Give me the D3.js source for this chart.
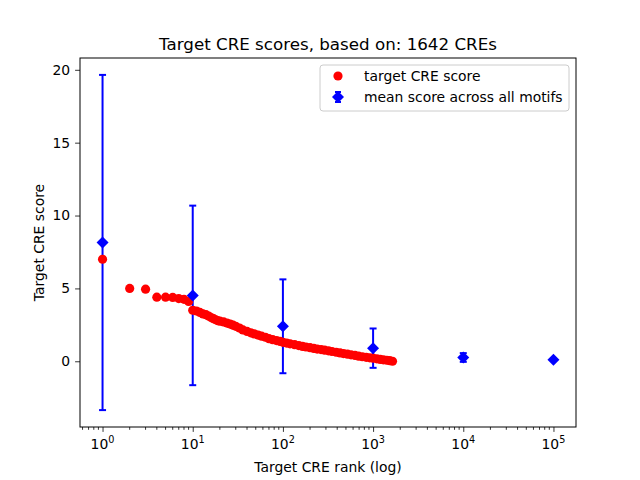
<!DOCTYPE html>
<html>
<head>
<meta charset="utf-8">
<script src="https://cdn.jsdelivr.net/npm/d3@7"></script>
<style>
  body { margin: 0; background: #fff; }
  text { font-family: "DejaVu Sans", sans-serif; }
</style>
</head>
<body>
<div id="viz"></div>
<script>
// target CRE score per rank
const ranks = [1, 2, 3, 4, 5, 6, 7, 8, 9, 10, 11, 12, 13, 14, 15, 16, 17, 18, 19, 20,
  22, 24, 26, 28, 30, 33, 36, 40, 44, 48, 53, 58, 64, 70, 77, 85, 93, 100, 110, 120,
  135, 150, 165, 180, 200, 220, 240, 265, 290, 320, 350, 390, 430, 470, 520, 570, 630,
  690, 760, 840, 920, 1000, 1100, 1200, 1300, 1420, 1530, 1642];
const scores = [7.0, 5.0, 4.95, 4.4, 4.4, 4.38, 4.3, 4.25, 4.1, 3.5, 3.45, 3.35, 3.25, 3.2, 3.1, 3.0, 2.92, 2.85, 2.78, 2.75,
  2.7, 2.62, 2.55, 2.48, 2.4, 2.28, 2.15, 2.05, 1.95, 1.88, 1.8, 1.72, 1.65, 1.55, 1.48, 1.42, 1.36, 1.3, 1.25, 1.2,
  1.14, 1.08, 1.02, 0.98, 0.93, 0.88, 0.84, 0.8, 0.76, 0.72, 0.67, 0.62, 0.57, 0.53, 0.49, 0.44, 0.4,
  0.35, 0.31, 0.27, 0.24, 0.21, 0.17, 0.13, 0.1, 0.07, 0.04, 0.0];

// mean score across all motifs with error
const meanRanks = [1, 10, 100, 1000, 10000, 100000];
const meanScores = [8.15, 4.52, 2.4, 0.9, 0.26, 0.1];
const meanErrors = [11.5, 6.16, 3.22, 1.35, 0.3, 0.05];

const yTicks = [0, 5, 10, 15, 20];
const xTicks = [1, 10, 100, 1000, 10000, 100000];

const width = 640, height = 480;
const margin = {left: 80, right: 64, top: 58, bottom: 53};

const svg = d3.select('#viz').append('svg')
  .attr('width', width)
  .attr('height', height);

const x = d3.scaleLog()
  .domain([Math.pow(10, -0.25), Math.pow(10, 5.25)])
  .range([margin.left, width - margin.right]);

const y = d3.scaleLinear()
  .domain([-4.51, 20.81])
  .range([height - margin.bottom, margin.top]);

// error bars
const eb = svg.append('g').attr('stroke', '#0000ff').attr('stroke-width', 2);
meanRanks.forEach((r, i) => {
  const cx = x(r);
  const lo = y(meanScores[i] - meanErrors[i]);
  const hi = y(meanScores[i] + meanErrors[i]);
  eb.append('line').attr('x1', cx).attr('x2', cx).attr('y1', lo).attr('y2', hi);
  eb.append('line').attr('x1', cx - 3.5).attr('x2', cx + 3.5).attr('y1', lo).attr('y2', lo);
  eb.append('line').attr('x1', cx - 3.5).attr('x2', cx + 3.5).attr('y1', hi).attr('y2', hi);
});

// red points
svg.append('g')
  .selectAll('circle')
  .data(ranks.map((r, i) => [r, scores[i]]))
  .enter()
  .append('circle')
  .attr('cx', d => x(d[0]))
  .attr('cy', d => y(d[1]))
  .attr('r', 4.6)
  .attr('fill', '#ff0000');

// diamonds
const diamond = s => `M0,${-s}L${s},0L0,${s}L${-s},0Z`;
svg.append('g')
  .selectAll('path')
  .data(meanRanks.map((r, i) => [r, meanScores[i]]))
  .enter()
  .append('path')
  .attr('d', diamond(6))
  .attr('transform', d => `translate(${x(d[0])},${y(d[1])})`)
  .attr('fill', '#0000ff');

// axes
const xAxis = d3.axisBottom(x)
  .tickValues(xTicks)
  .tickSize(4.9)
  .tickFormat(() => '');
const gx = svg.append('g')
  .attr('transform', `translate(0,${height - margin.bottom})`)
  .call(xAxis);

const minor = [];
for (let e = -1; e <= 5; e++) {
  for (let m = 2; m <= 9; m++) {
    const v = m * Math.pow(10, e);
    if (v > x.domain()[0] && v < x.domain()[1]) minor.push(v);
  }
}
gx.selectAll('.minor')
  .data(minor)
  .enter()
  .append('line')
  .attr('class', 'minor')
  .attr('x1', d => x(d)).attr('x2', d => x(d))
  .attr('y1', 0).attr('y2', 2.8)
  .attr('stroke', '#000').attr('stroke-width', 0.8);

gx.selectAll('.xlab')
  .data(xTicks)
  .enter()
  .append('text')
  .attr('class', 'xlab')
  .attr('x', d => x(d))
  .attr('y', 22)
  .attr('text-anchor', 'middle')
  .attr('font-size', 13.9)
  .attr('fill', '#000')
  .each(function(d) {
    const t = d3.select(this);
    t.append('tspan').text('10');
    t.append('tspan').attr('dy', -6).attr('font-size', 9.7).text(Math.round(Math.log10(d)));
  });

const yAxis = d3.axisLeft(y)
  .tickValues(yTicks)
  .tickSize(4.9)
  .tickPadding(4.9)
  .tickFormat(d3.format('d'));
svg.append('g')
  .attr('transform', `translate(${margin.left},0)`)
  .call(yAxis)
  .selectAll('text')
  .attr('font-size', 13.9)
  .attr('font-family', '"DejaVu Sans", sans-serif');

svg.selectAll('.domain').remove();
svg.selectAll('.tick line').attr('stroke-width', 0.8);

// frame
svg.append('rect')
  .attr('x', margin.left)
  .attr('y', margin.top)
  .attr('width', width - margin.left - margin.right)
  .attr('height', height - margin.top - margin.bottom)
  .attr('fill', 'none')
  .attr('stroke', '#000')
  .attr('stroke-width', 1);

// title and labels
svg.append('text')
  .attr('x', (margin.left + width - margin.right) / 2)
  .attr('y', 50)
  .attr('text-anchor', 'middle')
  .attr('font-size', 16.7)
  .text('Target CRE scores, based on: 1642 CREs');

svg.append('text')
  .attr('x', (margin.left + width - margin.right) / 2)
  .attr('y', 472)
  .attr('text-anchor', 'middle')
  .attr('font-size', 13.9)
  .text('Target CRE rank (log)');

svg.append('text')
  .attr('transform', `translate(44,${(margin.top + height - margin.bottom) / 2}) rotate(-90)`)
  .attr('text-anchor', 'middle')
  .attr('font-size', 13.9)
  .text('Target CRE score');

// legend
const lg = svg.append('g').attr('transform', 'translate(320,65)');
lg.append('rect')
  .attr('width', 249).attr('height', 46)
  .attr('rx', 3)
  .attr('fill', '#fff').attr('fill-opacity', 0.8)
  .attr('stroke', '#cccccc').attr('stroke-width', 1);
lg.append('circle').attr('cx', 18).attr('cy', 11).attr('r', 4.6).attr('fill', '#ff0000');
lg.append('text').attr('x', 44).attr('y', 16).attr('font-size', 13.9).text('target CRE score');
lg.append('line').attr('x1', 18).attr('x2', 18).attr('y1', 27).attr('y2', 37)
  .attr('stroke', '#0000ff').attr('stroke-width', 2);
lg.append('line').attr('x1', 15).attr('x2', 21).attr('y1', 27).attr('y2', 27)
  .attr('stroke', '#0000ff').attr('stroke-width', 2);
lg.append('line').attr('x1', 15).attr('x2', 21).attr('y1', 37).attr('y2', 37)
  .attr('stroke', '#0000ff').attr('stroke-width', 2);
lg.append('path').attr('d', diamond(6)).attr('transform', 'translate(18,32)').attr('fill', '#0000ff');
lg.append('text').attr('x', 44).attr('y', 37).attr('font-size', 13.9).text('mean score across all motifs');
</script>
</body>
</html>
